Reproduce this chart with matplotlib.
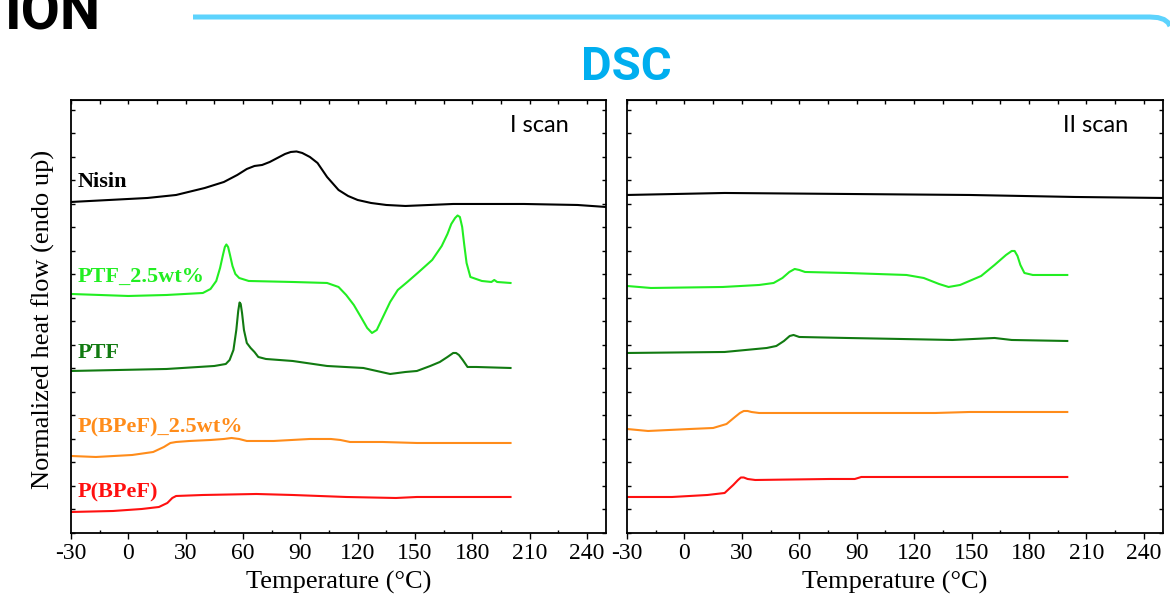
import numpy as np
import matplotlib
matplotlib.use("Agg")
import matplotlib.pyplot as plt
from matplotlib.lines import Line2D
from matplotlib.ticker import MultipleLocator

plt.rcParams['font.family'] = ['Liberation Serif', 'DejaVu Serif']
plt.rcParams['axes.unicode_minus'] = False

# ---- first heating scan (I scan) ----
nisin_1_t = [-30, -10, 10, 25, 40, 50, 57, 62, 66, 70, 74, 78, 82, 85, 88, 91, 95, 99, 104, 110, 115, 120, 127, 135, 145, 170, 207, 235, 250]
nisin_1_hf = [3.31, 3.33, 3.35, 3.38, 3.45, 3.51, 3.58, 3.64, 3.67, 3.68, 3.71, 3.75, 3.79, 3.81, 3.815, 3.80, 3.76, 3.70, 3.56, 3.43, 3.37, 3.33, 3.30, 3.28, 3.27, 3.29, 3.29, 3.28, 3.26]

ptf25_1_t = [-30, 0, 20, 39, 43, 46, 48, 49.5, 50.5, 51.3, 52.2, 53.2, 54.5, 56, 58, 63, 86, 104, 110, 114, 118, 122, 125, 127.5, 130, 133, 137, 141, 146, 152, 159, 164, 167, 169, 171, 172.3, 173.5, 174.7, 175.8, 177, 179, 185, 190, 191.5, 193, 200]
ptf25_1_hf = [2.39, 2.37, 2.38, 2.40, 2.44, 2.52, 2.65, 2.78, 2.86, 2.885, 2.86, 2.78, 2.67, 2.59, 2.55, 2.52, 2.51, 2.50, 2.46, 2.38, 2.28, 2.15, 2.05, 2.00, 2.03, 2.15, 2.31, 2.43, 2.51, 2.61, 2.73, 2.87, 2.99, 3.09, 3.15, 3.175, 3.16, 3.06, 2.88, 2.70, 2.56, 2.52, 2.51, 2.53, 2.51, 2.50]

ptf_1_t = [-30, 20, 45, 51, 53, 55, 56.5, 57.5, 58.2, 58.8, 59.5, 60.5, 62, 64, 66, 68, 72, 86, 104, 123, 130, 137, 145, 151, 158, 163, 167, 170, 171.5, 173, 175, 177.5, 182, 200]
ptf_1_hf = [1.62, 1.64, 1.67, 1.69, 1.73, 1.83, 2.03, 2.22, 2.305, 2.29, 2.20, 2.03, 1.90, 1.85, 1.81, 1.76, 1.74, 1.72, 1.67, 1.65, 1.62, 1.59, 1.61, 1.62, 1.67, 1.71, 1.76, 1.80, 1.80, 1.78, 1.73, 1.66, 1.66, 1.65]

pbpef25_1_t = [-30, -17, 2, 13, 18.6, 22, 25, 32, 43, 50, 54, 58, 62, 76, 95, 106, 111, 116, 133, 151, 200]
pbpef25_1_hf = [0.77, 0.76, 0.78, 0.81, 0.86, 0.90, 0.91, 0.92, 0.93, 0.94, 0.95, 0.94, 0.92, 0.92, 0.94, 0.94, 0.93, 0.91, 0.91, 0.90, 0.90]

pbpef_1_t = [-30, -8, 7, 16, 20.4, 23, 25, 39, 67, 86, 114, 140, 151, 200]
pbpef_1_hf = [0.21, 0.22, 0.24, 0.26, 0.30, 0.35, 0.37, 0.38, 0.39, 0.38, 0.36, 0.35, 0.36, 0.36]

# ---- second heating scan (II scan) ----
nisin_2_t = [-30, 21, 85, 149, 204, 250]
nisin_2_hf = [3.38, 3.40, 3.39, 3.38, 3.36, 3.35]

ptf25_2_t = [-30, -17.5, 20, 39, 46.6, 51.2, 54.8, 57.6, 60, 63, 85, 116, 125, 133, 138, 144, 155, 162, 168, 171, 172.5, 174, 175.5, 177.6, 182, 200]
ptf25_2_hf = [2.47, 2.45, 2.46, 2.48, 2.50, 2.55, 2.61, 2.64, 2.63, 2.61, 2.60, 2.58, 2.55, 2.49, 2.46, 2.48, 2.57, 2.68, 2.78, 2.82, 2.82, 2.77, 2.68, 2.60, 2.58, 2.58]

ptf_2_t = [-30, 21, 43, 48, 52, 55, 57, 60, 85, 113, 140, 162, 171, 200]
ptf_2_hf = [1.80, 1.81, 1.85, 1.87, 1.92, 1.97, 1.98, 1.96, 1.95, 1.94, 1.93, 1.95, 1.93, 1.92]

pbpef25_2_t = [-30, -19, 3, 15, 22, 26.4, 29, 31, 33, 35, 39, 76, 131, 149, 200]
pbpef25_2_hf = [1.04, 1.02, 1.04, 1.05, 1.09, 1.16, 1.20, 1.22, 1.22, 1.21, 1.20, 1.20, 1.20, 1.21, 1.21]

pbpef_2_t = [-30, -6.5, 12, 21, 25.5, 28, 29.5, 31, 33, 37, 76, 89, 92.4, 131, 200]
pbpef_2_hf = [0.36, 0.36, 0.38, 0.40, 0.48, 0.53, 0.555, 0.555, 0.54, 0.53, 0.54, 0.54, 0.56, 0.56, 0.56]

names = ['Nisin', 'PTF_2.5wt%', 'PTF', 'P(BPeF)_2.5wt%', 'P(BPeF)']
colors = ['black', '#22ee22', '#117a11', '#ff8c1a', '#ff1010']
label_hf = [3.51, 2.56, 1.80, 1.06, 0.41]

scan1 = [(nisin_1_t, nisin_1_hf), (ptf25_1_t, ptf25_1_hf), (ptf_1_t, ptf_1_hf),
         (pbpef25_1_t, pbpef25_1_hf), (pbpef_1_t, pbpef_1_hf)]
scan2 = [(nisin_2_t, nisin_2_hf), (ptf25_2_t, ptf25_2_hf), (ptf_2_t, ptf_2_hf),
         (pbpef25_2_t, pbpef25_2_hf), (pbpef_2_t, pbpef_2_hf)]

fig = plt.figure(figsize=(11.7, 5.99), dpi=100)
ax1 = fig.add_axes([0.0607, 0.1102, 0.4573, 0.7229])
ax2 = fig.add_axes([0.5359, 0.1102, 0.4581, 0.7229])

for ax, scan, tag in [(ax1, scan1, 'I scan'), (ax2, scan2, 'II scan')]:
    for (t, hf), c in zip(scan, colors):
        ax.plot(t, hf, color=c, lw=1.5)
    ax.set_xlim(-30, 250)
    ax.set_ylim(0, 4.33)
    ax.xaxis.set_major_locator(MultipleLocator(30))
    ax.xaxis.set_minor_locator(MultipleLocator(15))
    ax.yaxis.set_major_locator(MultipleLocator(0.235))
    # bottom: major ticks outward, minor inward
    ax.tick_params(axis='x', which='major', direction='out', length=4.5, width=1,
                   pad=2.5, labelsize=17)
    ax.tick_params(axis='x', which='minor', direction='in', length=2.5, width=1)
    ax.tick_params(axis='y', which='major', direction='in', length=3, width=1,
                   right=True)
    ax.set_yticklabels([])
    top = ax.secondary_xaxis('top')
    top.xaxis.set_major_locator(MultipleLocator(15))
    top.tick_params(direction='in', length=3, width=1, labeltop=False)
    for s in ax.spines.values():
        s.set_linewidth(1.3)
    ax.set_xlabel('Temperature (°C)', fontsize=19, labelpad=5)
    ax.text(0.875, 0.942, tag, transform=ax.transAxes, ha='center', va='center',
            fontsize=17, family='Lato')

for n, c, y in zip(names, colors, label_hf):
    ax1.text(-26.5, y, n, color=c, fontsize=16, fontweight='bold', ha='left', va='center')

ax1.set_ylabel('Normalized heat flow (endo up)', fontsize=19)
ax1.yaxis.set_label_coords(-0.03, 0.494)

fig.text(0.535, 0.888, 'DSC', color='#00aeef', fontsize=34, fontweight='bold',
         family='Roboto', ha='center', va='center')
fig.text(0.004, 0.95, 'ION', color='black', fontsize=41, fontweight='bold',
         family='Roboto', ha='left', va='baseline')

# header rule with a rounded end
bx = [193, 1150, 1158, 1164, 1168, 1170]
by = [17, 17, 17.6, 19.5, 22.5, 26]
fig.add_artist(Line2D([x / 1170 for x in bx], [1 - y / 599 for y in by],
                      color='#5dd3fd', lw=3.6, solid_capstyle='butt',
                      transform=fig.transFigure))

fig.savefig('out.png', dpi=100)
